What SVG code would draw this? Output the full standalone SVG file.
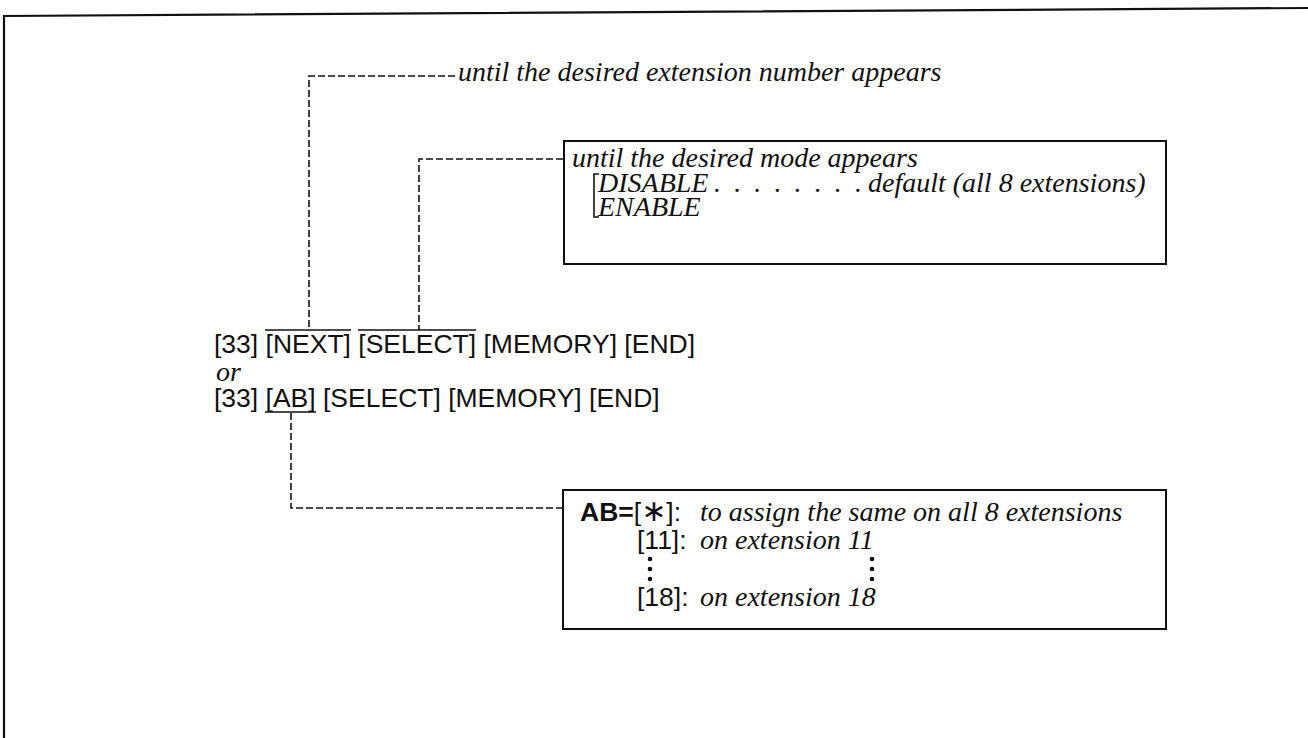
<svg xmlns="http://www.w3.org/2000/svg" width="1308" height="738" viewBox="0 0 1308 738">
<style>
.sans{font-family:"Liberation Sans",Arial,sans-serif;font-size:26.5px;fill:#111}
.bold{font-weight:bold}
.it{font-family:"Liberation Serif","Times New Roman",serif;font-style:italic;font-size:28px;fill:#111}
.itcap{font-family:"Liberation Serif","Times New Roman",serif;font-style:italic;font-size:28px;fill:#111}
.dash{fill:none;stroke:#111;stroke-width:1.6;stroke-dasharray:7 3}
.solid{fill:none;stroke:#111;stroke-width:1.6}
.box{fill:#fff;stroke:#111;stroke-width:2}
.frame{fill:none;stroke:#111;stroke-width:2.2}
.dot{fill:#111}
</style>
<rect width="1308" height="738" fill="#fff"/>
<path class="frame" d="M4,738 V16 L1308,8"/>

<g id="connectors">
  <path class="dash" d="M455,76 H309 V330"/>
  <path class="dash" d="M563,159 H419 V330"/>
  <path class="dash" d="M291,413 V508 H563"/>
  <line class="solid" x1="265" y1="330" x2="351" y2="330"/>
  <line class="solid" x1="358" y1="330" x2="476" y2="330"/>
  <line class="solid" x1="265" y1="412" x2="316" y2="412"/>
</g>

<g id="label-next">
  <text class="it" x="458" y="81">until the desired extension number appears</text>
</g>

<g id="sequence">
  <text class="sans" x="214" y="353">[33] [NEXT] [SELECT] [MEMORY] [END]</text>
  <text class="it" x="216" y="381">or</text>
  <text class="sans" x="214" y="407">[33] [AB] [SELECT] [MEMORY] [END]</text>
</g>

<g id="box-mode">
  <rect class="box" x="564" y="141" width="602" height="123"/>
  <text class="it" x="572" y="167">until the desired mode appears</text>
  <path class="solid" d="M599,174 H594 V217 H599"/>
  <text class="itcap" x="598" y="192">DISABLE</text>
  <text class="it" x="714" y="192" textLength="148" lengthAdjust="spacing">. . . . . . . .</text>
  <text class="it" x="868" y="192">default (all 8 extensions)</text>
  <text class="itcap" x="598" y="216">ENABLE</text>
</g>

<g id="box-ab">
  <rect class="box" x="563" y="490" width="603" height="139"/>
  <text class="sans" x="580" y="521"><tspan class="bold">AB=</tspan>[<tspan style="font-family:'DejaVu Sans',sans-serif;font-size:30px">∗</tspan>]:</text>
  <text class="it" x="700" y="521">to assign the same on all 8 extensions</text>
  <text class="sans" x="637" y="549">[11]:</text>
  <text class="it" x="700" y="549">on extension 11</text>
  <circle class="dot" cx="650" cy="559" r="2.3"/>
  <circle class="dot" cx="650" cy="569" r="2.3"/>
  <circle class="dot" cx="650" cy="579" r="2.3"/>
  <circle class="dot" cx="872" cy="559" r="2.3"/>
  <circle class="dot" cx="872" cy="569" r="2.3"/>
  <circle class="dot" cx="872" cy="579" r="2.3"/>
  <text class="sans" x="637" y="606">[18]:</text>
  <text class="it" x="700" y="606">on extension 18</text>
</g>
</svg>
